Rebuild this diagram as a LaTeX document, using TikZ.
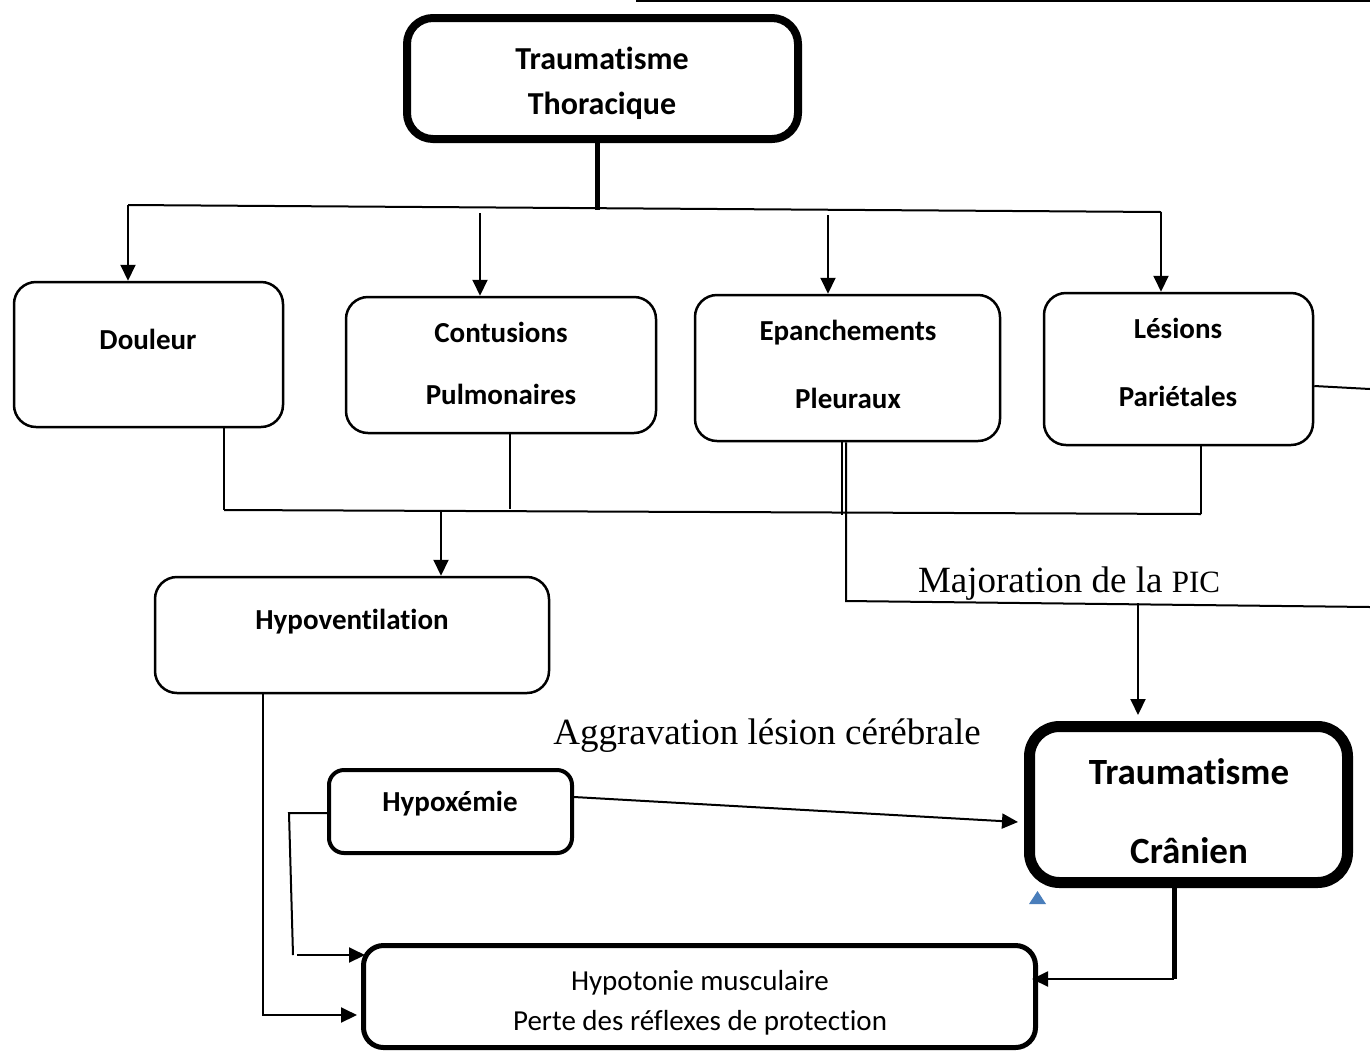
\documentclass[tikz,border=0pt]{standalone}
\usepackage{fontspec}
\setmainfont{Carlito}[Ligatures={NoCommon},RawFeature=-liga]
\newfontfamily\serifont{Liberation Serif}
\usetikzlibrary{arrows.meta,calc}
\begin{document}
\begin{tikzpicture}[x=1pt,y=-1pt,
  box/.style={draw,rounded corners=22pt,line width=2.5pt,inner sep=0pt},
  lbl/.style={font=\fontsize{29}{34}\selectfont\bfseries,inner sep=0pt,anchor=base},
  toplbl/.style={font=\fontsize{32}{38}\selectfont\bfseries,inner sep=0pt,anchor=base},
  reg/.style={font=\fontsize{29}{34}\selectfont,inner sep=0pt,anchor=base},
  big/.style={font=\fontsize{37}{44}\selectfont\bfseries,inner sep=0pt,anchor=base},
  ser/.style={font=\fontsize{37}{44}\selectfont\serifont,inner sep=0pt,anchor=base},
  conn/.style={line width=2pt},
  arr/.style={line width=2pt,-{Triangle[length=16pt,width=15pt]}},
]
\useasboundingbox (0,0) rectangle (1370,1053);
\fill[white] (0,0) rectangle (1370,1053);

% boxes
\node[box,line width=8pt,rounded corners=26pt,minimum width=391pt,minimum height=121pt] (top) at (602.5,78.5) {};
\node[box,minimum width=269pt,minimum height=145pt] (douleur) at (148.5,354.5) {};
\node[box,minimum width=310pt,minimum height=136pt] (contus) at (501,365) {};
\node[box,minimum width=305pt,minimum height=146pt] (epanch) at (847.5,368) {};
\node[box,minimum width=269pt,minimum height=152pt] (lesion) at (1178.5,369) {};
\node[box,minimum width=394pt,minimum height=116pt] (hypov) at (352,635) {};
\node[box,line width=4pt,rounded corners=15pt,minimum width=243pt,minimum height=83pt] (hypox) at (450.5,811.5) {};
\node[box,line width=11pt,rounded corners=30pt,minimum width=318pt,minimum height=156pt] (cran) at (1188.5,804.5) {};
\node[box,line width=5pt,rounded corners=20pt,minimum width=672pt,minimum height=102pt] (bottom) at (699.5,996.5) {};

% labels
\node[toplbl] (t1) at (602,69) {Traumatisme};
\node[toplbl] (t2) at (602,114) {Thoracique};
\node[lbl] (d1) at (148,349) {Douleur};
\node[lbl] (c1) at (501,342) {Contusions};
\node[lbl] (c2) at (501,404) {Pulmonaires};
\node[lbl] (e1) at (848,340) {Epanchements};
\node[lbl] (e2) at (848,408) {Pleuraux};
\node[lbl] (l1) at (1178,338) {Lésions};
\node[lbl] (l2) at (1178,406) {Pariétales};
\node[lbl] (h1) at (352,629) {Hypoventilation};
\node[lbl] (x1) at (450,811) {Hypoxémie};
\node[big] (k1) at (1189,784) {Traumatisme};
\node[big] (k2) at (1189,863) {Crânien};
\node[reg] (b1) at (700,990) {Hypotonie musculaire};
\node[reg] (b2) at (700,1030) {Perte des réflexes de protection};
\node[ser] (maj) at (1069,592) {Majoration de la {\fontsize{31}{36}\selectfont PIC}};
\node[ser] (agg) at (767,744) {Aggravation lésion cérébrale};

% coordinates
\coordinate (stem) at (597,210);
\coordinate (hL) at (128,205);
\coordinate (hR) at (1161,212);
\coordinate (a2) at (480,213);
\coordinate (a3) at (828,215);
\coordinate (j1) at (224,510);
\coordinate (j2) at (510,509);
\coordinate (j3) at (1201,514);
\coordinate (j4) at (441,510);
\coordinate (p1) at (842,515);
\coordinate (p2) at (846,601);
\coordinate (p3) at (1370,607);
\coordinate (pa) at (1138,603);
\coordinate (le) at (1370,389);
\coordinate (tl1) at (636,1);
\coordinate (tl2) at (1370,1);
\coordinate (v1) at (263,1015);
\coordinate (x2) at (289,813);
\coordinate (x3) at (293,955);
\coordinate (x4) at (297,955);
\coordinate (xe) at (574,797);
\coordinate (xt) at (1018,822);
\coordinate (c1a) at (1174,880);
\coordinate (c1b) at (1174,979);

% connectors
\draw[line width=5pt] (top.south -| stem) -- (stem);
\draw[conn] (hL) -- (hR);
\draw[arr] (hL) -- (douleur.north -| hL);
\draw[arr] (a2) -- (contus.north -| a2);
\draw[arr] (a3) -- (epanch.north -| a3);
\draw[arr] (hR) -- (lesion.north -| hR);

\draw[conn] (douleur.south -| j1) -- (j1);
\draw[conn] (contus.south -| j2) -- (j2);
\draw[conn] (lesion.south -| j3) -- (j3);
\draw[conn] (j1) -- (j3);
\draw[arr] (j4) -- (hypov.north -| j4);

\draw[conn] (epanch.south -| p1) -- (p1);
\draw[conn] (epanch.south -| p2) -- (p2) -- (p3);
\draw[conn] ($(lesion.east)+(0,17)$) -- (le);
\draw[conn] (tl1) -- (tl2);
\draw[arr] (pa) -- ($(cran.north -| pa)+(0,-6)$);

\draw[arr] (hypov.south -| v1) -- (v1) -- ($(bottom.west |- v1)+(-4,0)$);
\draw[conn] (hypox.west |- x2) -- (x2) -- (x3);
\draw[arr] (x4) -- ($(bottom.west |- x4)+(4,0)$);
\draw[arr] (xe) -- (xt);
\draw[line width=5pt] (c1a) -- (c1b);
\draw[arr] (c1b) -- ($(bottom.east |- c1b)+(-6,0)$);

\fill[fill={rgb,255:red,74;green,126;blue,187}] (1029,904) -- (1046,904) -- (1037.5,891) -- cycle;
\end{tikzpicture}
\end{document}
